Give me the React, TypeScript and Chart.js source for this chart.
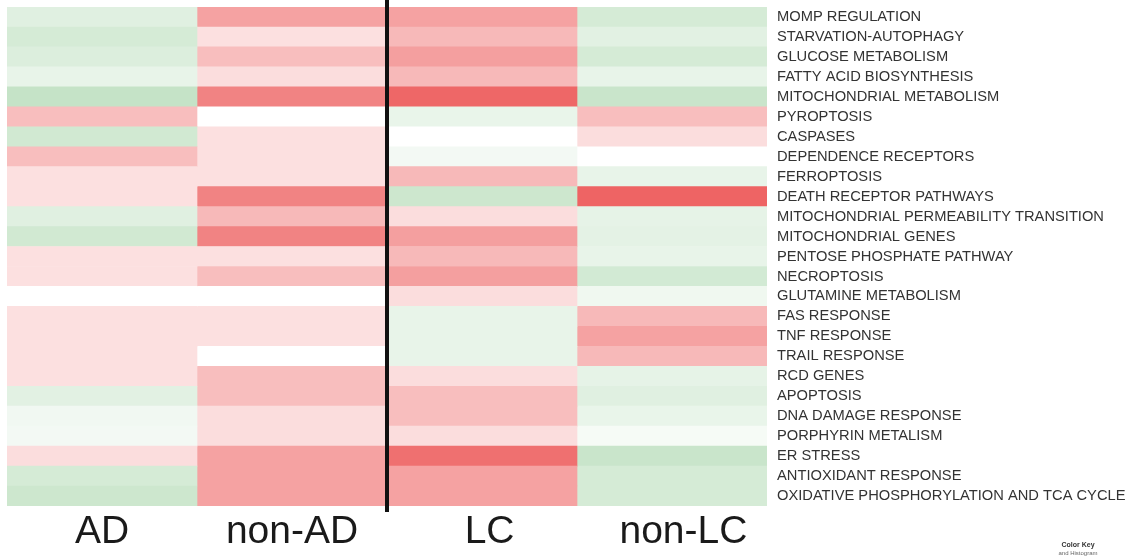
import React, { useEffect, useRef } from "react";
import { Chart, registerables } from "chart.js";

Chart.register(...registerables);

const rowLabels = [
  "MOMP REGULATION",
  "STARVATION-AUTOPHAGY",
  "GLUCOSE METABOLISM",
  "FATTY ACID BIOSYNTHESIS",
  "MITOCHONDRIAL METABOLISM",
  "PYROPTOSIS",
  "CASPASES",
  "DEPENDENCE RECEPTORS",
  "FERROPTOSIS",
  "DEATH RECEPTOR PATHWAYS",
  "MITOCHONDRIAL PERMEABILITY TRANSITION",
  "MITOCHONDRIAL GENES",
  "PENTOSE PHOSPHATE PATHWAY",
  "NECROPTOSIS",
  "GLUTAMINE METABOLISM",
  "FAS RESPONSE",
  "TNF RESPONSE",
  "TRAIL RESPONSE",
  "RCD GENES",
  "APOPTOSIS",
  "DNA DAMAGE RESPONSE",
  "PORPHYRIN METALISM",
  "ER STRESS",
  "ANTIOXIDANT RESPONSE",
  "OXIDATIVE PHOSPHORYLATION AND TCA CYCLE",
];

const colLabels = ["AD", "non-AD", "LC", "non-LC"];

// positive = up (red), negative = down (green)
const adValues = [
  -0.4, -0.55, -0.45, -0.3, -0.75, 0.42, -0.6, 0.42, 0.2, 0.2, -0.4, -0.6, 0.2,
  0.2, 0, 0.2, 0.2, 0.2, 0.2, -0.38, -0.18, -0.15, 0.22, -0.55, -0.65,
];
const nonAdValues = [
  0.6, 0.2, 0.42, 0.22, 0.8, 0, 0.2, 0.2, 0.2, 0.8, 0.45, 0.8, 0.2, 0.42, 0,
  0.2, 0.2, 0, 0.42, 0.42, 0.22, 0.22, 0.6, 0.6, 0.6,
];
const lcValues = [
  0.6, 0.45, 0.62, 0.45, 0.98, -0.28, 0, -0.15, 0.45, -0.65, 0.22, 0.62, 0.45,
  0.62, 0.22, -0.3, -0.3, -0.3, 0.22, 0.42, 0.42, 0.22, 0.92, 0.6, 0.6,
];
const nonLcValues = [
  -0.55, -0.38, -0.55, -0.3, -0.7, 0.42, 0.22, 0, -0.3, 1.0, -0.32, -0.35,
  -0.3, -0.58, -0.2, 0.45, 0.6, 0.45, -0.32, -0.4, -0.28, -0.12, -0.7, -0.55,
  -0.55,
];

const columns = [adValues, nonAdValues, lcValues, nonLcValues];

function cellColor(v: number): string {
  const red = [238, 100, 100];
  const green = [178, 218, 180];
  const t = Math.min(1, Math.abs(v));
  const target = v >= 0 ? red : green;
  const c = target.map((x) => Math.round(255 + (x - 255) * t));
  return `rgb(${c[0]},${c[1]},${c[2]})`;
}

const dividerPlugin = {
  id: "divider",
  afterDatasetsDraw(chart: any) {
    const { ctx, scales } = chart;
    const x = scales.x.getPixelForValue(2);
    ctx.save();
    ctx.fillStyle = "#111111";
    ctx.fillRect(x - 2, 0, 4, chart.chartArea.bottom + 6);
    ctx.restore();
  },
  afterDraw(chart: any) {
    const { ctx } = chart;
    ctx.save();
    ctx.fillStyle = "#333333";
    ctx.textAlign = "center";
    ctx.textBaseline = "alphabetic";
    ctx.font = "bold 7px 'Liberation Sans', Arial, sans-serif";
    ctx.fillText("Color Key", 1078, 547);
    ctx.font = "6px 'Liberation Sans', Arial, sans-serif";
    ctx.fillStyle = "#666666";
    ctx.fillText("and Histogram", 1078, 555);
    ctx.restore();
  },
};

export default function App() {
  const ref = useRef<HTMLCanvasElement | null>(null);

  useEffect(() => {
    if (!ref.current) return;
    const datasets = columns.map((vals, ci) => ({
      label: colLabels[ci],
      data: vals.map(() => [ci, ci + 1]),
      backgroundColor: vals.map((v) => cellColor(v)),
      borderWidth: 0,
      barPercentage: 1,
      categoryPercentage: 1,
      grouped: false,
    }));

    const chart = new Chart(ref.current, {
      type: "bar",
      data: { labels: rowLabels, datasets: datasets as any },
      options: {
        indexAxis: "y",
        animation: false,
        responsive: false,
        maintainAspectRatio: false,
        layout: { padding: { left: 7, top: 7, right: 0, bottom: 0 } },
        plugins: {
          legend: { display: false },
          tooltip: { enabled: false },
        },
        scales: {
          x: {
            type: "linear",
            min: 0,
            max: 4,
            position: "bottom",
            grid: { display: false, drawTicks: false },
            border: { display: false },
            afterBuildTicks: (scale: any) => {
              scale.ticks = [0.5, 1.5, 2.54, 3.56].map((v) => ({ value: v }));
            },
            afterFit: (scale: any) => {
              scale.height = 50;
              scale.paddingLeft = 0;
              scale.paddingRight = 0;
            },
            ticks: {
              autoSkip: false,
              maxRotation: 0,
              padding: 3,
              color: "#1a1a1a",
              font: { family: "'Liberation Sans', Arial, sans-serif", size: 39 },
              callback: (v: any) => colLabels[Math.floor(Number(v))],
            },
          },
          y: {
            type: "category",
            position: "right",
            offset: true,
            grid: { display: false, drawTicks: false },
            border: { display: false },
            afterFit: (scale: any) => {
              scale.width = 1132 - 767;
              scale.paddingTop = 0;
              scale.paddingBottom = 0;
            },
            ticks: {
              autoSkip: false,
              padding: 10,
              color: "#333333",
              font: { family: "'Liberation Sans', Arial, sans-serif", size: 14.7 },
            },
          },
        },
      },
      plugins: [dividerPlugin],
    });
    return () => chart.destroy();
  }, []);

  return (
    <div style={{ position: "fixed", left: 0, top: 0, width: 1132, height: 556, background: "#ffffff" }}>
      <canvas ref={ref} width={1132} height={556} style={{ display: "block" }} />
    </div>
  );
}
